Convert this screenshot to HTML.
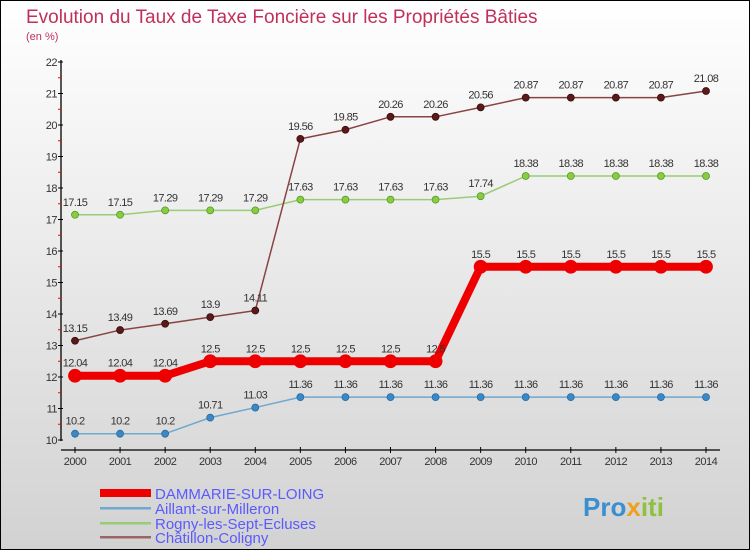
<!DOCTYPE html>
<html><head><meta charset="utf-8"><style>
body{margin:0}
svg{display:block;font-family:"Liberation Sans",sans-serif}
</style></head><body>
<svg id="c" width="750" height="550" xmlns="http://www.w3.org/2000/svg">
<defs><linearGradient id="bg" x1="0" y1="0" x2="0" y2="1"><stop offset="0" stop-color="#ffffff"/><stop offset="1" stop-color="#d2d2d2"/></linearGradient></defs>
<rect x="0.5" y="0.5" width="749" height="549" fill="url(#bg)" stroke="#000"/>
<text x="26" y="23" font-size="19" fill="#c0305a">Evolution du Taux de Taxe Foncière sur les Propriétés Bâties</text>
<text x="26" y="40" font-size="11" fill="#c0305a">(en %)</text>
<g id="axes"></g>
<g id="series"></g>
<g>
<rect x="100" y="489" width="51" height="8" fill="#e00"/>
<text x="155" y="499" font-size="15" fill="#5a5aff">DAMMARIE-SUR-LOING</text>
<rect x="100" y="507" width="51" height="2.5" fill="#6fa8d0"/>
<text x="155" y="514" font-size="15" fill="#5a5aff">Aillant-sur-Milleron</text>
<rect x="100" y="522" width="51" height="2.5" fill="#99cc77"/>
<text x="155" y="529" font-size="15" fill="#5a5aff">Rogny-les-Sept-Ecluses</text>
<rect x="100" y="536" width="51" height="2.5" fill="#996666"/>
<text x="155" y="543" font-size="15" fill="#5a5aff">Châtillon-Coligny</text>
</g>
<g>
<text x="583" y="516" font-size="26" font-weight="bold" fill="#3a8fd0">Pro<tspan fill="#f0a020">x</tspan><tspan fill="#8fc040">iti</tspan></text>
</g>
</svg>
<script>
const years=[2000,2001,2002,2003,2004,2005,2006,2007,2008,2009,2010,2011,2012,2013,2014];
const yTicks=[10,11,12,13,14,15,16,17,18,19,20,21,22];
const dammarie=[12.04,12.04,12.04,12.5,12.5,12.5,12.5,12.5,12.5,15.5,15.5,15.5,15.5,15.5,15.5];
const aillant=[10.2,10.2,10.2,10.71,11.03,11.36,11.36,11.36,11.36,11.36,11.36,11.36,11.36,11.36,11.36];
const rogny=[17.15,17.15,17.29,17.29,17.29,17.63,17.63,17.63,17.63,17.74,18.38,18.38,18.38,18.38,18.38];
const chatillon=[13.15,13.49,13.69,13.9,14.11,19.56,19.85,20.26,20.26,20.56,20.87,20.87,20.87,20.87,21.08];
const NS='http://www.w3.org/2000/svg';
const xS=i=>75+i*(631/14);
const yS=v=>440-(v-10)*31.5;
function mk(tag,attrs,parent){const e=document.createElementNS(NS,tag);for(const k in attrs)e.setAttribute(k,attrs[k]);parent.appendChild(e);return e;}
const ax=document.getElementById('axes');
let l=mk('line',{x1:61,y1:60,x2:61,y2:441,stroke:'#000','stroke-width':1.3},ax);


l=mk('line',{x1:61,y1:450,x2:720,y2:450,stroke:'#000','stroke-width':1.3},ax);


yTicks.forEach(v=>{
  let t=mk('line',{x1:58,y1:yS(v),x2:63,y2:yS(v),stroke:'#000'},ax);
  
  
  let tx=mk('text',{x:57,y:yS(v)+4,'font-size':11,fill:'#333','text-anchor':'end','letter-spacing':'-0.5'},ax);
  tx.textContent=v;
  
  
  if(v<22){let h=mk('line',{x1:58,y1:yS(v+0.5),x2:61,y2:yS(v+0.5),stroke:'#f00'},ax);
  
  }
});
years.forEach((y,i)=>{
  let t=mk('line',{x1:xS(i),y1:447,x2:xS(i),y2:453,stroke:'#000'},ax);
  
  
  let tx=mk('text',{x:xS(i),y:465,'font-size':11,fill:'#333','text-anchor':'middle','letter-spacing':'-0.5'},ax);
  tx.textContent=y;
  
  
});
const sg=document.getElementById('series');
function draw(data,name,lc,lw,pc,r,stroke){
  const g=mk('g',{},sg);
  
  
  let p=mk('polyline',{points:data.map((v,i)=>xS(i)+','+yS(v)).join(' '),fill:'none',stroke:lc,'stroke-width':lw,'stroke-linejoin':'round'},g);
  
  
  data.forEach((v,i)=>{
    let c=mk('circle',{cx:xS(i),cy:yS(v),r:r,fill:pc,stroke:stroke,'stroke-width':0.8},g);
    
    
    let t=mk('text',{x:xS(i),y:yS(v)-9,'font-size':11,fill:'#333','text-anchor':'middle','letter-spacing':'-0.6'},g);
    t.textContent=v;
    
    
  });
}
draw(aillant,'aillant','#6fa8d0',1.5,'#3a88c8',3.5,'#2a6a9a');
draw(rogny,'rogny','#99cc77',1.5,'#88cc44',3.5,'#559922');
draw(chatillon,'chatillon','#884444',1.5,'#5a1a1a',3.5,'#3a0a0a');
draw(dammarie,'dammarie','#ee0000',8,'#ee0000',6.5,'#ee0000');
</script>
</body></html>
